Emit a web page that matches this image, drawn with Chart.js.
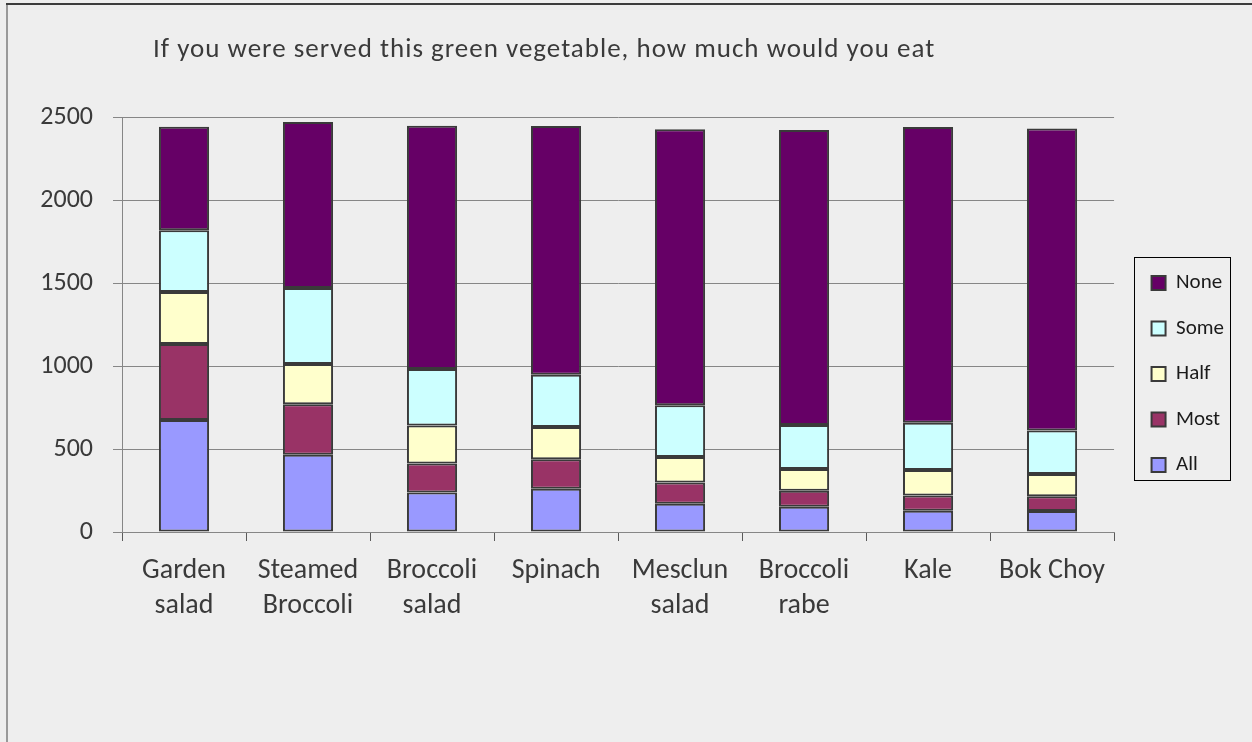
<!DOCTYPE html>
<html>
<head>
<meta charset="utf-8">
<title>Green vegetables</title>
<script src="https://cdn.jsdelivr.net/npm/chart.js@4.4.0/dist/chart.umd.min.js"></script>
<style>
  html, body { margin: 0; padding: 0; background: #eeeeee; overflow: hidden; }
  canvas { display: block; }
</style>
</head>
<body>
<canvas id="veg" width="1252" height="742"></canvas>
<script>
// survey answers per vegetable (number of respondents)
const vegetables = [
  ['Garden', 'salad'], ['Steamed', 'Broccoli'], ['Broccoli', 'salad'], 'Spinach',
  ['Mesclun', 'salad'], ['Broccoli', 'rabe'], 'Kale', 'Bok Choy'
];
const allEaten  = [674, 466, 238, 260, 170, 152, 128, 126];
const mostEaten = [458, 304, 174, 178, 128, 96, 92, 90];
const halfEaten = [314, 242, 230, 194, 154, 132, 154, 134];
const someEaten = [372, 458, 340, 316, 312, 264, 284, 262];
const noneEaten = [624, 1000, 1466, 1498, 1662, 1778, 1782, 1818];
const yTicks = [0, 500, 1000, 1500, 2000, 2500];

const FONT = 'Carlito, Lato, sans-serif';
const TEXT = '#3a3a3a';
const GRID = '#868686';
const EDGE = '#3a3a3a';

const series = [
  { label: 'All',  data: allEaten,  color: '#9999ff' },
  { label: 'Most', data: mostEaten, color: '#993366' },
  { label: 'Half', data: halfEaten, color: '#ffffcc' },
  { label: 'Some', data: someEaten, color: '#ccffff' },
  { label: 'None', data: noneEaten, color: '#660066' }
];

// grey page, frame lines and the heading
const backdrop = {
  id: 'backdrop',
  beforeDraw(chart) {
    const ctx = chart.ctx;
    ctx.save();
    ctx.fillStyle = '#eeeeee';
    ctx.fillRect(0, 0, chart.width, chart.height);
    ctx.fillStyle = '#999999';
    ctx.fillRect(6, 4, 2, chart.height - 4);
    ctx.fillStyle = '#3c3c3c';
    ctx.fillRect(6, 3, chart.width - 6, 2);
    ctx.restore();
  },
  afterDraw(chart) {
    const ctx = chart.ctx;
    ctx.save();
    ctx.fillStyle = TEXT;
    ctx.font = '27px ' + FONT;
    ctx.letterSpacing = '1px';
    ctx.textBaseline = 'alphabetic';
    ctx.fillText('If you were served this green vegetable, how much would you eat', 153, 57);
    ctx.restore();
  }
};

// thin box around the legend entries
const legendFrame = {
  id: 'legendFrame',
  afterDraw(chart) {
    const boxes = chart.legend && chart.legend.legendHitBoxes;
    if (!boxes || !boxes.length) return;
    let l = Infinity, r = -Infinity, t = Infinity, b = -Infinity;
    boxes.forEach(h => {
      l = Math.min(l, h.left);
      r = Math.max(r, h.left + h.width);
      t = Math.min(t, h.top);
      b = Math.max(b, h.top + h.height);
    });
    const ctx = chart.ctx;
    ctx.save();
    ctx.strokeStyle = '#000000';
    ctx.lineWidth = 1;
    const x0 = Math.round(l - 18) + 0.5, y0 = Math.round(t - 16) + 0.5;
    const x1 = Math.round(r + 6) + 0.5, y1 = Math.round(b + 4) + 0.5;
    ctx.strokeRect(x0, y0, x1 - x0, y1 - y0);
    ctx.restore();
  }
};

new Chart(document.getElementById('veg'), {
  type: 'bar',
  data: {
    labels: vegetables,
    datasets: series.map(s => ({
      label: s.label,
      data: s.data,
      backgroundColor: s.color,
      borderColor: EDGE,
      borderWidth: 2,
      borderSkipped: false,
      categoryPercentage: 1,
      barPercentage: 0.404
    }))
  },
  options: {
    responsive: false,
    animation: false,
    layout: { padding: { top: 117, left: 20, right: 18, bottom: 111 } },
    scales: {
      x: {
        stacked: true,
        grid: { display: true, drawOnChartArea: false, tickLength: 9, color: '#5a5a5a' },
        border: { color: GRID },
        ticks: { color: TEXT, font: { family: FONT, size: 28, lineHeight: 1.25 }, padding: 12, maxRotation: 0, autoSkip: false },
        afterFit(scale) { scale.height = 99; }
      },
      y: {
        stacked: true,
        min: 0,
        max: 2500,
        grid: { color: GRID, tickLength: 9 },
        border: { color: GRID },
        ticks: {
          color: TEXT, font: { family: FONT, size: 26 }, padding: 20,
          stepSize: 500,
          callback: v => yTicks.includes(v) ? String(v) : ''
        },
        afterFit(scale) { scale.width = 102; }
      },
      gap: {
        type: 'linear',
        position: 'right',
        display: true,
        grid: { display: false },
        border: { display: false },
        ticks: { display: false },
        afterFit(scale) { scale.width = 13; }
      }
    },
    plugins: {
      legend: {
        position: 'right',
        reverse: true,
        labels: {
          color: '#1a1a1a',
          font: { family: FONT, size: 21 },
          boxWidth: 14,
          boxHeight: 14,
          padding: 24.5
        }
      },
      title: { display: false },
      tooltip: { enabled: false }
    }
  },
  plugins: [backdrop, legendFrame]
});
</script>
</body>
</html>
